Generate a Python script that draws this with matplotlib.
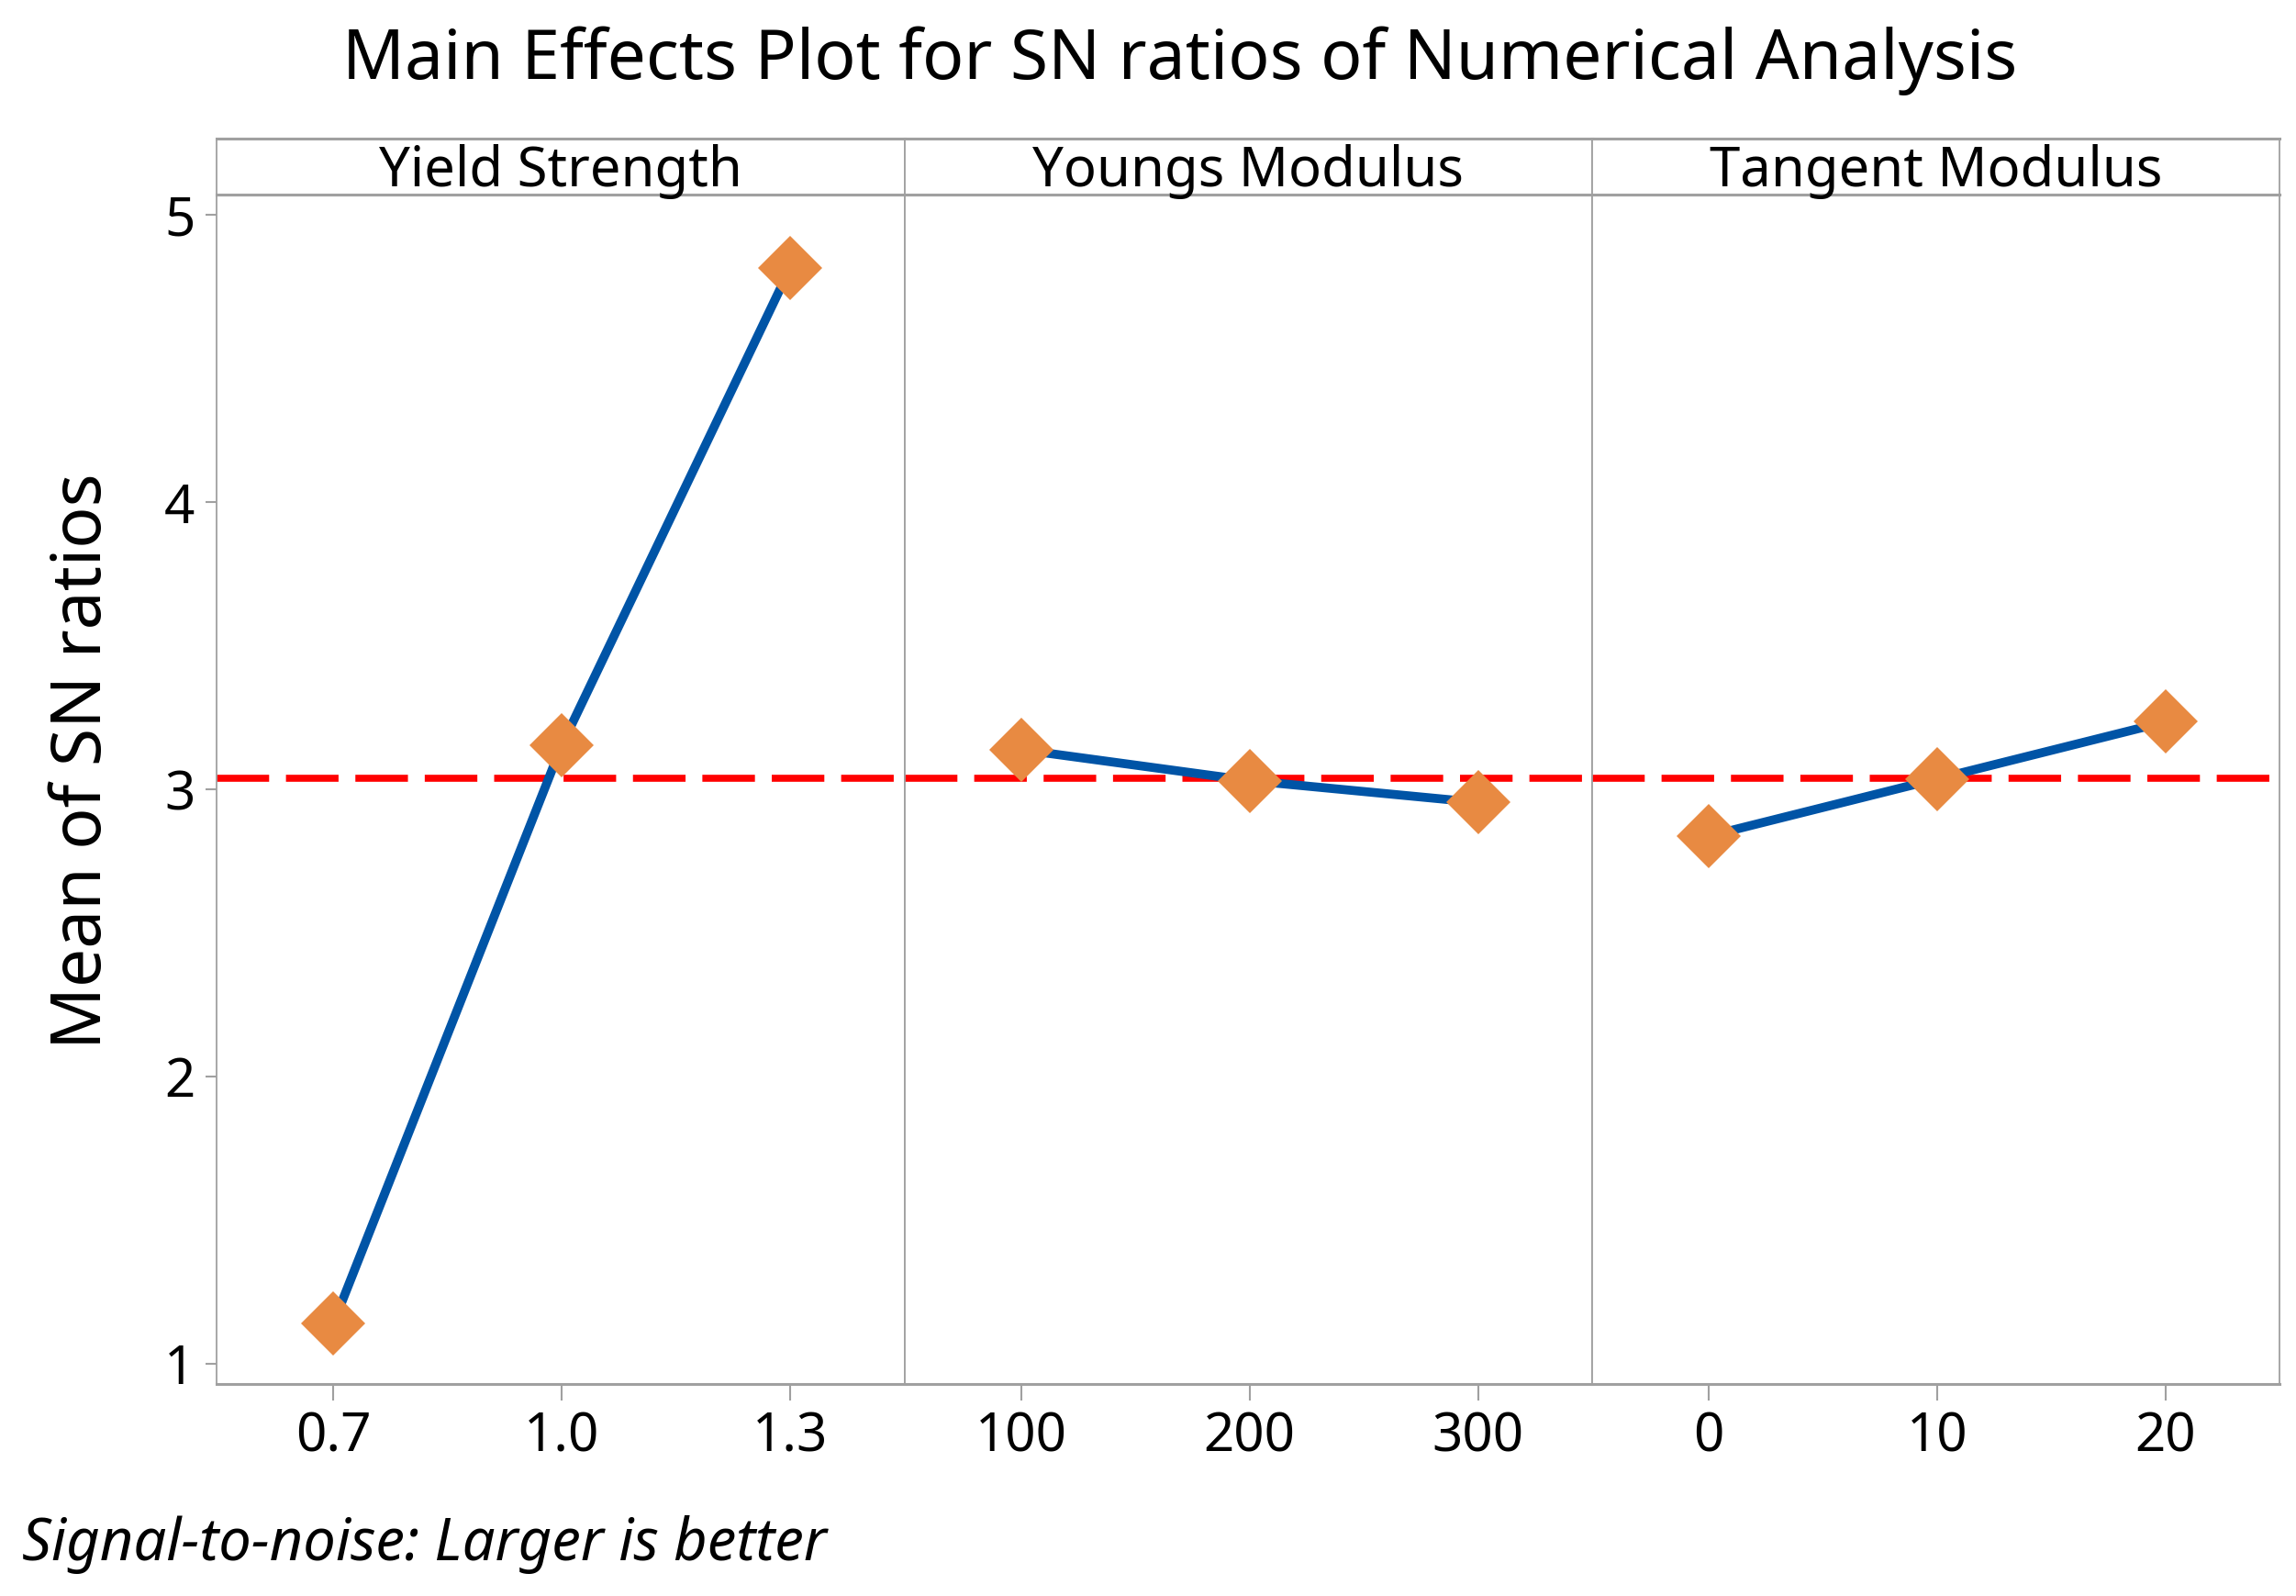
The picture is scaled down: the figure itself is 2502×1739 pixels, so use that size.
import matplotlib
matplotlib.use("Agg")
import matplotlib.pyplot as plt
import numpy as np

title = "Main Effects Plot for SN ratios of Numerical Analysis"
factors = ["Yield Strength", "Youngs Modulus", "Tangent Modulus"]
levels_yield = ["0.7", "1.0", "1.3"]
levels_youngs = ["100", "200", "300"]
levels_tangent = ["0", "10", "20"]
sn_yield = [1.138, 3.153, 4.816]
sn_youngs = [3.138, 3.030, 2.954]
sn_tangent = [2.837, 3.036, 3.235]
ylabel = "Mean of SN ratios"
footnote = "Signal-to-noise: Larger is better"

levels = [levels_yield, levels_youngs, levels_tangent]
values = [sn_yield, sn_youngs, sn_tangent]
grand_mean = float(np.mean(np.concatenate([sn_yield, sn_youngs, sn_tangent])))

plt.rcParams['font.family'] = ['Noto Sans', 'DejaVu Sans']

W, H = 2502, 1739
fig = plt.figure(figsize=(W / 100, H / 100), dpi=100)

left, right = 0.0944, 0.993
bottom, top = 0.133, 0.878
strip_top = 0.913
pw = (right - left) / 3

spine_c = "#A0A0A0"
blue = "#0054A6"
orange = "#E88A42"

axes = []
for i in range(3):
    ax = fig.add_axes([left + i * pw, bottom, pw, top - bottom])
    axes.append(ax)
    x = np.arange(len(levels[i]))
    ax.axhline(grand_mean, color="#FF0000", lw=5.5, linestyle=(0, (7.5, 2.4)), zorder=1)
    ax.plot(x, values[i], color=blue, lw=7, zorder=2, solid_capstyle="butt")
    ax.plot(x, values[i], linestyle="none", marker="D", markersize=36,
            color=orange, markeredgewidth=0, zorder=3)
    ax.set_xlim(-0.51, 2.5)
    ax.set_ylim(0.929, 5.071)
    ax.set_xticks(x)
    ax.set_xticklabels(levels[i], fontsize=42, fontweight="semibold")
    ax.tick_params(axis="x", length=13, width=1.5, color=spine_c, pad=8)
    for s in ax.spines.values():
        s.set_color(spine_c)
        s.set_linewidth(1.3)
    ax.spines["bottom"].set_linewidth(2.2)
    ax.spines["top"].set_linewidth(2.2)
    if i == 0:
        ax.set_yticks([1, 2, 3, 4, 5])
        ax.set_yticklabels(["1", "2", "3", "4", "5"], fontsize=42, fontweight="semibold")
        ax.tick_params(axis="y", length=9, width=1.5, color=spine_c, pad=8)
    else:
        ax.set_yticks([])
    # strip
    sax = fig.add_axes([left + i * pw, top, pw, strip_top - top])
    sax.set_xticks([])
    sax.set_yticks([])
    for s in sax.spines.values():
        s.set_color(spine_c)
        s.set_linewidth(1.3)
    sax.spines["top"].set_linewidth(2.2)
    sax.spines["bottom"].set_linewidth(2.2)
    sax.text(0.5, 0.42, factors[i], ha="center", va="center", fontsize=43,
             fontweight="semibold", transform=sax.transAxes)

fig.text(0.514, 0.962, title, ha="center", va="center", fontsize=54, fontweight="semibold")
fig.text(0.036, 0.523, ylabel, ha="center", va="center", rotation=90, fontsize=54,
         fontweight="semibold")
fig.text(0.0096, 0.032, footnote, ha="left", va="center", fontsize=45.5, style="italic")

fig.savefig("out.png", dpi=100, facecolor="white")
